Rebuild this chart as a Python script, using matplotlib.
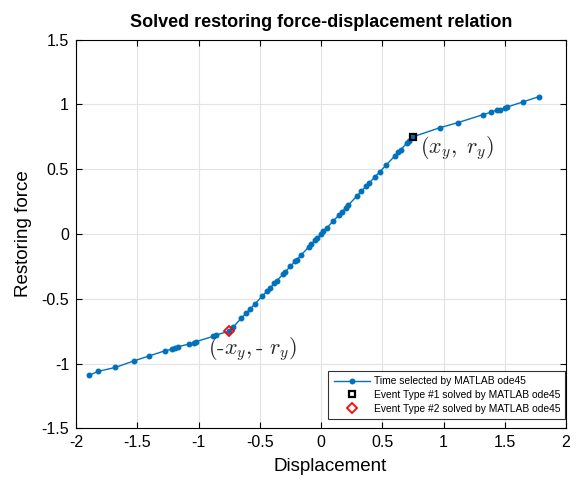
import numpy as np
import matplotlib
matplotlib.use('Agg')
import matplotlib.pyplot as plt

plt.rcParams['font.family'] = ['Liberation Sans', 'DejaVu Sans']
plt.rcParams['mathtext.fontset'] = 'cm'

# displacement / restoring force at the solver time steps
disp = [-1.89, -1.82, -1.68, -1.53, -1.40, -1.27, -1.22, -1.19, -1.17, -1.08,
        -1.04, -1.02, -0.88, -0.86, -0.75,
        -0.72, -0.65, -0.61, -0.58, -0.54, -0.48, -0.44, -0.42, -0.38, -0.36,
        -0.31, -0.29, -0.25, -0.21, -0.20, -0.16, -0.10, -0.08, -0.05, -0.03,
        0.00, 0.02, 0.05, 0.10, 0.15, 0.17, 0.20, 0.22, 0.29, 0.33,
        0.37, 0.39, 0.44, 0.48, 0.53, 0.60, 0.63, 0.65, 0.70, 0.72,
        0.75, 0.97, 1.12, 1.32, 1.39, 1.44, 1.46, 1.50, 1.52, 1.65, 1.78]
force = [-1.09, -1.06, -1.03, -0.98, -0.94, -0.90, -0.89, -0.88, -0.87, -0.85,
         -0.84, -0.83, -0.79, -0.78, -0.75,
         -0.72, -0.65, -0.61, -0.58, -0.54, -0.48, -0.44, -0.42, -0.38, -0.36,
         -0.31, -0.29, -0.25, -0.21, -0.20, -0.16, -0.10, -0.08, -0.05, -0.03,
         0.00, 0.02, 0.05, 0.10, 0.15, 0.17, 0.20, 0.22, 0.29, 0.33,
         0.37, 0.39, 0.44, 0.48, 0.53, 0.60, 0.63, 0.65, 0.70, 0.72,
         0.75, 0.82, 0.86, 0.92, 0.94, 0.96, 0.96, 0.97, 0.98, 1.02, 1.06]

# yield events
event1 = (0.75, 0.75)
event2 = (-0.75, -0.75)

xticks = np.arange(-2, 2.01, 0.5)
yticks = np.arange(-1.5, 1.51, 0.5)

fig = plt.figure(figsize=(5.77, 4.80), dpi=100)
ax = fig.add_axes([0.1317, 0.1075, 0.8493, 0.81])

blue = '#0072BD'
ax.plot(disp, force, '-', color=blue, lw=1, marker='.', ms=6.5,
        label='Time selected by MATLAB ode45', zorder=3)
ax.plot(event1[0], event1[1], 's', mfc='none', mec='k', mew=1.6, ms=5,
        label='Event Type #1 solved by MATLAB ode45', zorder=4)
ax.plot(event2[0], event2[1], 'D', mfc='none', mec='red', mew=1.3, ms=5,
        label='Event Type #2 solved by MATLAB ode45', zorder=4)

ax.text(0.81, 0.665, r'$(x_y,\ r_y)$', fontsize=16, color='#262626',
        ha='left', va='center')
ax.text(-0.92, -0.89, r'$(\text{-}x_y,\text{-}\ r_y)$', fontsize=16,
        color='#262626', ha='left', va='center')

ax.set_xlim(-2, 2)
ax.set_ylim(-1.5, 1.5)
ax.set_xticks(xticks)
ax.set_yticks(yticks)
ax.set_xticklabels(['%g' % t for t in xticks])
ax.set_yticklabels(['%g' % t for t in yticks])
ax.grid(True, color='#e3e3e3', lw=0.8)
ax.set_axisbelow(True)
ax.tick_params(direction='in', top=True, right=True, labelsize=11.5, length=4,
               width=0.8, colors='k', pad=5)
for s in ax.spines.values():
    s.set_linewidth(0.8)

ax.set_xlabel('Displacement', fontsize=13.5, labelpad=4)
ax.xaxis.set_label_coords(0.518, -0.075)
ax.set_ylabel('Restoring force', fontsize=13.5, labelpad=7)
ax.set_title('Solved restoring force-displacement relation', fontsize=13,
             fontweight='bold', pad=9)

leg = ax.legend(loc='lower right', bbox_to_anchor=(0.9985, 0.025), fontsize=7.4,
                frameon=True, fancybox=False, edgecolor='k', borderpad=0.5,
                handlelength=3.5, labelspacing=0.35, handletextpad=0.4,
                borderaxespad=0)
leg.get_frame().set_linewidth(0.8)

fig.savefig('out.png', dpi=100)
